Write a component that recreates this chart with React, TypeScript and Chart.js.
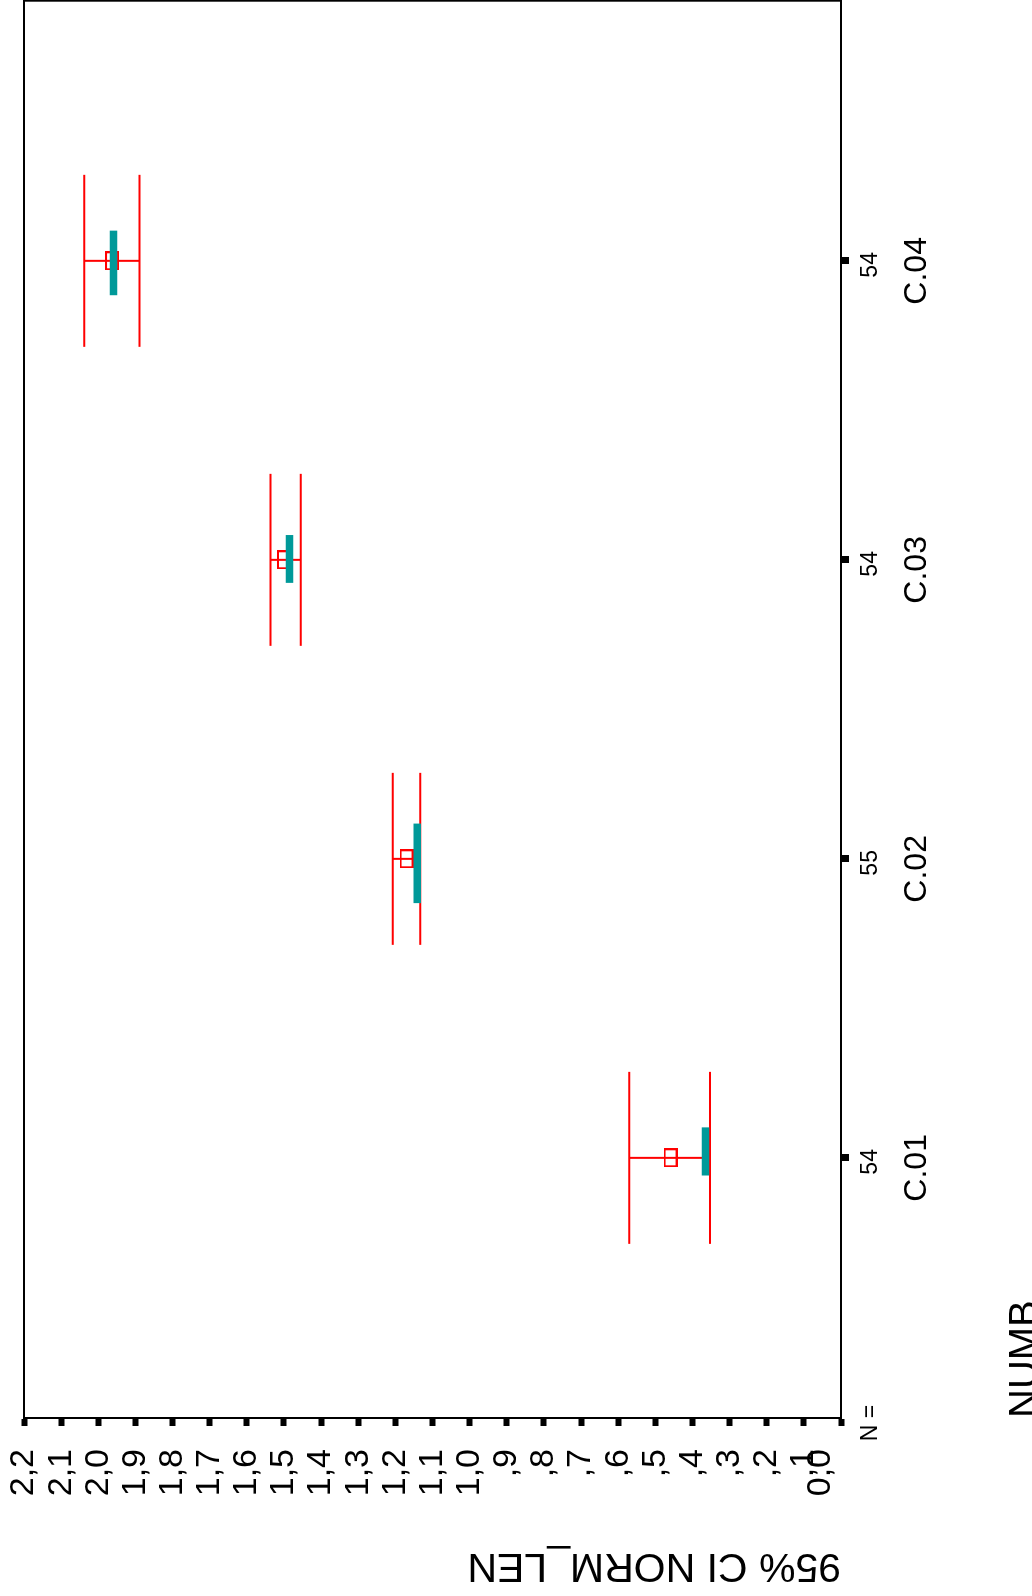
import React, { useEffect, useRef } from "react";
import { Chart, registerables } from "chart.js";

Chart.register(...registerables);

// ---- data ----
const CATEGORIES = ["C.01", "C.02", "C.03", "C.04"];
const CATEGORY_POSITIONS = [1, 2, 3, 4];
const N_COUNTS = ["54", "55", "54", "54"];
const CI_LOWER = [0.353, 1.133, 1.455, 1.889];
const CI_UPPER = [0.57, 1.207, 1.536, 2.038];
const MEANS = [0.459, 1.17, 1.5, 1.963];
const MARK_VALUES = [0.365, 1.141, 1.485, 1.959];
const MARK_FROM = [0.941, 1.852, 2.923, 3.885];
const MARK_TO = [1.102, 2.118, 3.083, 4.101];
const VALUE_TICKS = [0, 0.1, 0.2, 0.3, 0.4, 0.5, 0.6, 0.7, 0.8, 0.9, 1.0, 1.1, 1.2, 1.3, 1.4, 1.5, 1.6, 1.7, 1.8, 1.9, 2.0, 2.1, 2.2];
const VALUE_TICK_LABELS = ["0,0", ",1", ",2", ",3", ",4", ",5", ",6", ",7", ",8", ",9", "1,0", "1,1", "1,2", "1,3", "1,4", "1,5", "1,6", "1,7", "1,8", "1,9", "2,0", "2,1", "2,2"];
const Y_TITLE = "95% CI NORM_LEN";
const X_TITLE = "NUMB";
const N_LABEL = "N =";

// ---- styles ----
const FONT = "'Liberation Sans', Arial, Helvetica, sans-serif";
const RED = "#ff0000";
const TEAL = "#009999";
const W = 1596;
const H = 1055;
const VISIBLE_H = 1032;
const PLOT_LEFT = 178;
const PLOT_BOTTOM = 841;

function makeSquare(): HTMLCanvasElement {
  const c = document.createElement("canvas");
  c.width = 19;
  c.height = 14;
  const g = c.getContext("2d")!;
  g.strokeStyle = RED;
  g.lineWidth = 2;
  g.strokeRect(1, 1, 17, 12);
  return c;
}

const frameAndNPlugin = {
  id: "frameAndN",
  afterDraw(chart: any) {
    const { ctx, chartArea: a } = chart;
    const xs = chart.scales.x;
    ctx.save();
    ctx.strokeStyle = "#000";
    ctx.lineWidth = 2;
    ctx.strokeRect(a.left, a.top, a.right - a.left, a.bottom - a.top);
    ctx.fillStyle = "#000";
    ctx.font = `23px ${FONT}`;
    ctx.textAlign = "center";
    ctx.textBaseline = "middle";
    N_COUNTS.forEach((n, i) => {
      ctx.fillText(n, xs.getPixelForValue(CATEGORY_POSITIONS[i]) - 4, a.bottom + 30);
    });
    ctx.fillText(N_LABEL, a.left - 5, a.bottom + 30);
    ctx.restore();
  },
};

export default function App() {
  const ref = useRef<HTMLCanvasElement | null>(null);

  useEffect(() => {
    document.body.style.margin = "0";
    document.body.style.overflow = "hidden";
    const canvas = ref.current;
    if (!canvas) return;

    const stems: any[] = [];
    const caps: any[] = [];
    const marks: any[] = [];
    CATEGORY_POSITIONS.forEach((p, i) => {
      stems.push({ x: p, y: CI_LOWER[i] }, { x: p, y: CI_UPPER[i] }, { x: p, y: null });
      caps.push({ x: p, y: CI_LOWER[i] }, { x: p, y: CI_UPPER[i] });
      marks.push({ x: MARK_FROM[i], y: MARK_VALUES[i] }, { x: MARK_TO[i], y: MARK_VALUES[i] }, { x: MARK_TO[i], y: null });
    });
    const means = CATEGORY_POSITIONS.map((p, i) => ({ x: p, y: MEANS[i] }));
    const square = makeSquare();

    const chart = new Chart(canvas, {
      type: "line",
      data: {
        datasets: [
          {
            label: "mark",
            data: marks,
            borderColor: TEAL,
            borderWidth: 7.6,
            borderCapStyle: "butt",
            pointRadius: 0,
            spanGaps: false,
            order: 0,
          } as any,
          {
            label: "mean",
            data: means,
            showLine: false,
            pointStyle: square,
            pointRadius: 10,
            order: 1,
          } as any,
          {
            label: "caps",
            data: caps,
            showLine: false,
            pointStyle: "line",
            pointRadius: 86,
            pointBorderWidth: 2,
            pointBorderColor: RED,
            pointBackgroundColor: RED,
            order: 2,
          } as any,
          {
            label: "ci",
            data: stems,
            borderColor: RED,
            borderWidth: 2,
            pointRadius: 0,
            spanGaps: false,
            order: 3,
          } as any,
        ],
      },
      options: {
        responsive: false,
        animation: false,
        devicePixelRatio: 1,
        events: [],
        layout: { autoPadding: false, padding: { top: 24, right: 0.7, left: 0, bottom: 0 } },
        plugins: { legend: { display: false }, tooltip: { enabled: false } },
        scales: {
          x: {
            type: "linear",
            position: "bottom",
            min: 0.13,
            max: 4.87,
            afterBuildTicks: (s: any) => {
              s.ticks = CATEGORY_POSITIONS.map((v) => ({ value: v }));
            },
            afterFit: (s: any) => {
              s.height = H - PLOT_BOTTOM;
              s.paddingLeft = 0;
              s.paddingRight = 0;
            },
            grid: { display: true, drawOnChartArea: false, drawTicks: true, tickLength: 8, tickWidth: 7, tickColor: "#000" },
            border: { display: true, color: "#000", width: 2 },
            ticks: {
              autoSkip: false,
              maxRotation: 0,
              minRotation: 0,
              padding: 49,
              labelOffset: -10,
              color: "#000",
              font: { family: FONT, size: 32 },
              callback: (_v: any, i: number) => CATEGORIES[i],
            },
            title: {
              display: true,
              text: X_TITLE,
              align: "start",
              color: "#000",
              font: { family: FONT, size: 40 },
              padding: { top: 0, bottom: 5 },
            },
          } as any,
          y: {
            type: "linear",
            position: "left",
            min: 0,
            max: 2.2,
            afterBuildTicks: (s: any) => {
              s.ticks = VALUE_TICKS.map((v) => ({ value: v }));
            },
            afterFit: (s: any) => {
              s.width = PLOT_LEFT;
              s.paddingTop = 0;
              s.paddingBottom = 0;
            },
            grid: { display: true, drawOnChartArea: false, drawTicks: true, tickLength: 8, tickWidth: 6, tickColor: "#000" },
            border: { display: true, color: "#000", width: 2 },
            ticks: {
              autoSkip: false,
              padding: 23,
              color: "#000",
              font: { family: FONT, size: 34 },
              callback: (_v: any, i: number) => (i === 0 ? [VALUE_TICK_LABELS[0], " "] : VALUE_TICK_LABELS[i]),
            },
            title: {
              display: true,
              text: Y_TITLE,
              align: "start",
              color: "#000",
              font: { family: FONT, size: 41 },
              padding: { top: 6, bottom: 0 },
            },
          } as any,
        },
      },
      plugins: [frameAndNPlugin],
    } as any);

    return () => chart.destroy();
  }, []);

  return (
    <div
      style={{
        position: "absolute",
        left: 0,
        top: 0,
        width: W,
        height: VISIBLE_H,
        overflow: "hidden",
        background: "#fff",
        transformOrigin: "0 0",
        transform: `translateY(${W}px) rotate(-90deg)`,
      }}
    >
      <canvas ref={ref} width={W} height={H} style={{ display: "block" }} />
    </div>
  );
}
